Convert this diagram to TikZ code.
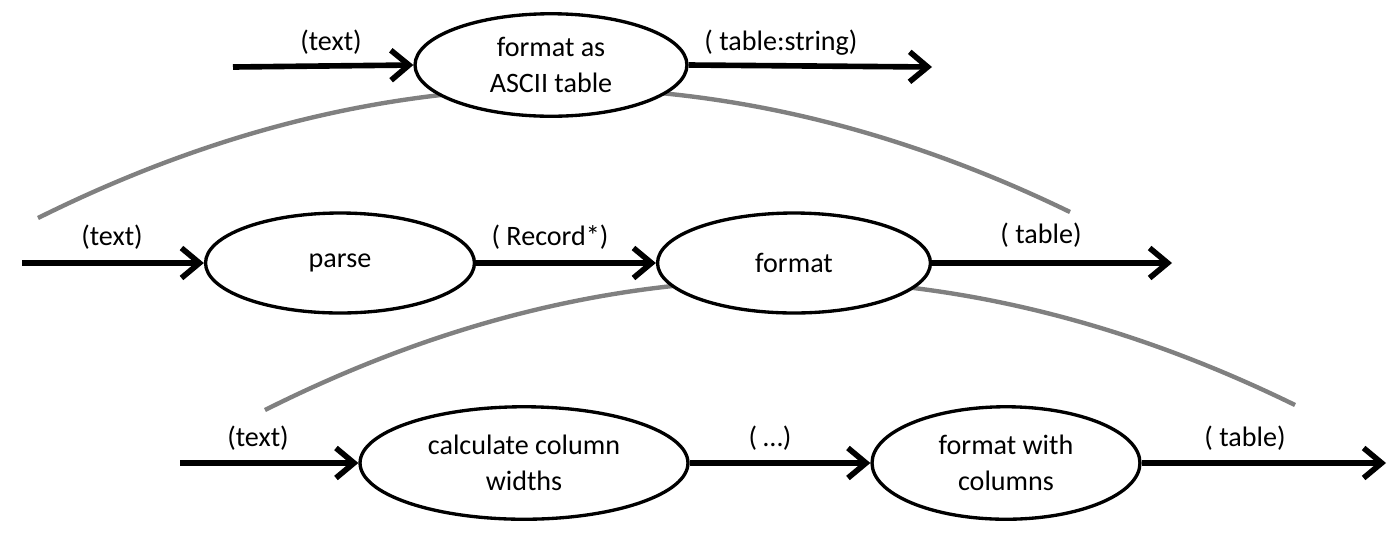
\documentclass[tikz,border=0pt]{standalone}
\usepackage{fontspec}
\setmainfont{Carlito}
\usetikzlibrary{shapes.geometric,arrows.meta}

\tikzset{
  stage/.style={draw=black, line width=1.9pt, fill=white, ellipse, inner sep=0pt,
    minimum width=5.44cm, minimum height=2cm, align=center,
    font=\fontsize{16}{20.5}\selectfont},
  flow/.style={draw=black, line width=3.2pt, -{Straight Barb[length=0.36cm,width=0.6cm]}},
  tag/.style={black, anchor=base, font=\fontsize{16}{19}\selectfont},
  expand/.style={draw=black!50, line width=2.5pt}
}

\begin{document}
\begin{tikzpicture}[x=0.02cm, y=-0.02cm]
        \useasboundingbox (0,0) rectangle (1400,532);

        % grey expansion arcs (behind the stages)
        \coordinate (upper from) at (38,218);
        \coordinate (upper to) at (1070,212);
        \coordinate (lower from) at (265,410);
        \coordinate (lower to) at (1295,405);

	\draw[expand] (upper from) .. controls (382,47) and (726,45) .. (upper to);
	\draw[expand] (lower from) .. controls (608,238) and (952,237) .. (lower to);

        % stages
	\node[stage, minimum height=2.05cm] (ascii) at (551,65) {format as\\ASCII table};

	\node[stage, minimum width=5.38cm] (parse) at (340,263) {parse};

	\node[stage, minimum width=5.46cm] (format) at (794,263) {format};

	\node[stage, minimum width=6.56cm, minimum height=2.25cm] (widths) at (524,463) {calculate column\\widths};

	\node[stage, minimum width=5.36cm, minimum height=2.25cm] (columns) at (1006,463) {format with\\columns};

        % free ends
        \coordinate (ascii in) at (233,67);
        \coordinate (ascii out) at (932,67);
        \coordinate (parse in) at (22,263);
        \coordinate (format out) at (1172,263);
        \coordinate (widths in) at (180,463);
        \coordinate (columns out) at (1386,463);

	\draw[flow] (ascii in) -- (ascii.west);
	\draw[flow] (ascii.east) -- (ascii out);

	\draw[flow] (parse in) -- (parse.west);
	\draw[flow] (parse.east) -- (format.west);
	\draw[flow] (format.east) -- (format out);

	\draw[flow] (widths in) -- (widths.west);
	\draw[flow] (widths.east) -- (columns.west);
	\draw[flow] (columns.east) -- (columns out);

        % labels
	\node[tag] (t1) at (331,50) {(text)};
	\node[tag] (t2) at (781,50) {( table:string)};

	\node[tag] (t3) at (112,245) {(text)};
	\node[tag] (t4) at (550,245) {( Record*)};
	\node[tag] (t5) at (1041,243) {( table)};

	\node[tag] (t6) at (258,446) {(text)};
	\node[tag] (t7) at (770,446) {( …)};
	\node[tag] (t8) at (1245,446) {( table)};

\end{tikzpicture}
\end{document}
